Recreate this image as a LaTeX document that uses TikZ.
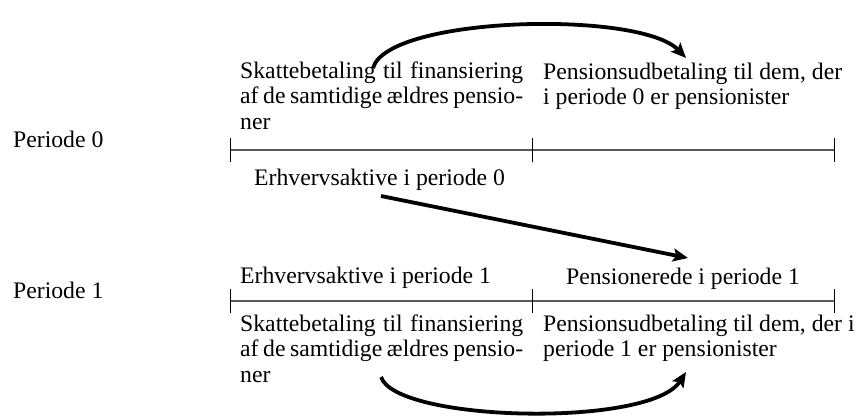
\documentclass[tikz,border=0pt]{standalone}
\usepackage{fontspec}
\setmainfont{Liberation Serif}
\usetikzlibrary{arrows.meta}
\newcommand\jline[2]{\makebox[#1][s]{#2}}
\tikzset{
  txt/.style={anchor=base west, inner sep=0pt, font=\fontsize{23.7pt}{25.8pt}\selectfont},
  axis/.style={draw=black!65, line width=1.4pt},
  tick/.style={draw=black, line width=1pt},
  flow/.style={line width=3.8pt, -{Stealth[length=15pt,width=13pt,inset=3pt]}}
}
\begin{document}
\begin{tikzpicture}[x=1pt,y=-1pt]
\useasboundingbox (0,0) rectangle (859,418);
% labels
\node[txt] (p0) at (13,147) {Periode 0};
\node[txt] (p1) at (13,298) {Periode 1};
% period 0 texts
\node[txt] (t0l) at (240,78) {\vtop{\baselineskip=25.8pt
  \hbox{\jline{283pt}{Skattebetaling til finansiering}}
  \hbox{\jline{283pt}{af de samtidige ældres pensio-}}
  \hbox{ner}}};
\node[txt] (t0r) at (543,79) {\vtop{\baselineskip=25.8pt
  \hbox{\jline{299pt}{Pensionsudbetaling til dem, der}}
  \hbox{i periode 0 er pensionister}}};
\node[txt] (e0) at (254,185) {Erhvervsaktive i periode 0};
% period 1 texts
\node[txt] (e1) at (240,283) {Erhvervsaktive i periode 1};
\node[txt, anchor=base] (r1) at (683,284) {Pensionerede i periode 1};
\node[txt] (t1l) at (240,331) {\vtop{\baselineskip=25.8pt
  \hbox{\jline{283pt}{Skattebetaling til finansiering}}
  \hbox{\jline{283pt}{af de samtidige ældres pensio-}}
  \hbox{ner}}};
\node[txt] (t1r) at (543,331) {\vtop{\baselineskip=25.8pt
  \hbox{Pensionsudbetaling til dem, der i}
  \hbox{periode 1 er pensionister}}};
% timelines
\coordinate (a0) at (230,150); \coordinate (b0) at (532,150); \coordinate (c0) at (834,150);
\coordinate (a1) at (230,301); \coordinate (b1) at (532,301); \coordinate (c1) at (834,301);
\draw[axis] (a0) -- (c0);
\draw[axis] (a1) -- (c1);
\foreach \p in {a0,b0,c0,a1,b1,c1}{
  \draw[tick] ([yshift=-12pt]\p) -- ([yshift=12pt]\p);
}
% arrows
\coordinate (s0) at (373,68); \coordinate (d0) at (686,58);
\draw[flow] (s0) .. controls (388,16) and (640,10) .. (d0);
\coordinate (sm) at (381,196); \coordinate (dm) at (688,258);
\draw[flow] (sm) -- (dm);
\coordinate (s1) at (381,377); \coordinate (d1) at (686,372);
\draw[flow] (s1) .. controls (396,422) and (650,428) .. (d1);
\end{tikzpicture}
\end{document}
